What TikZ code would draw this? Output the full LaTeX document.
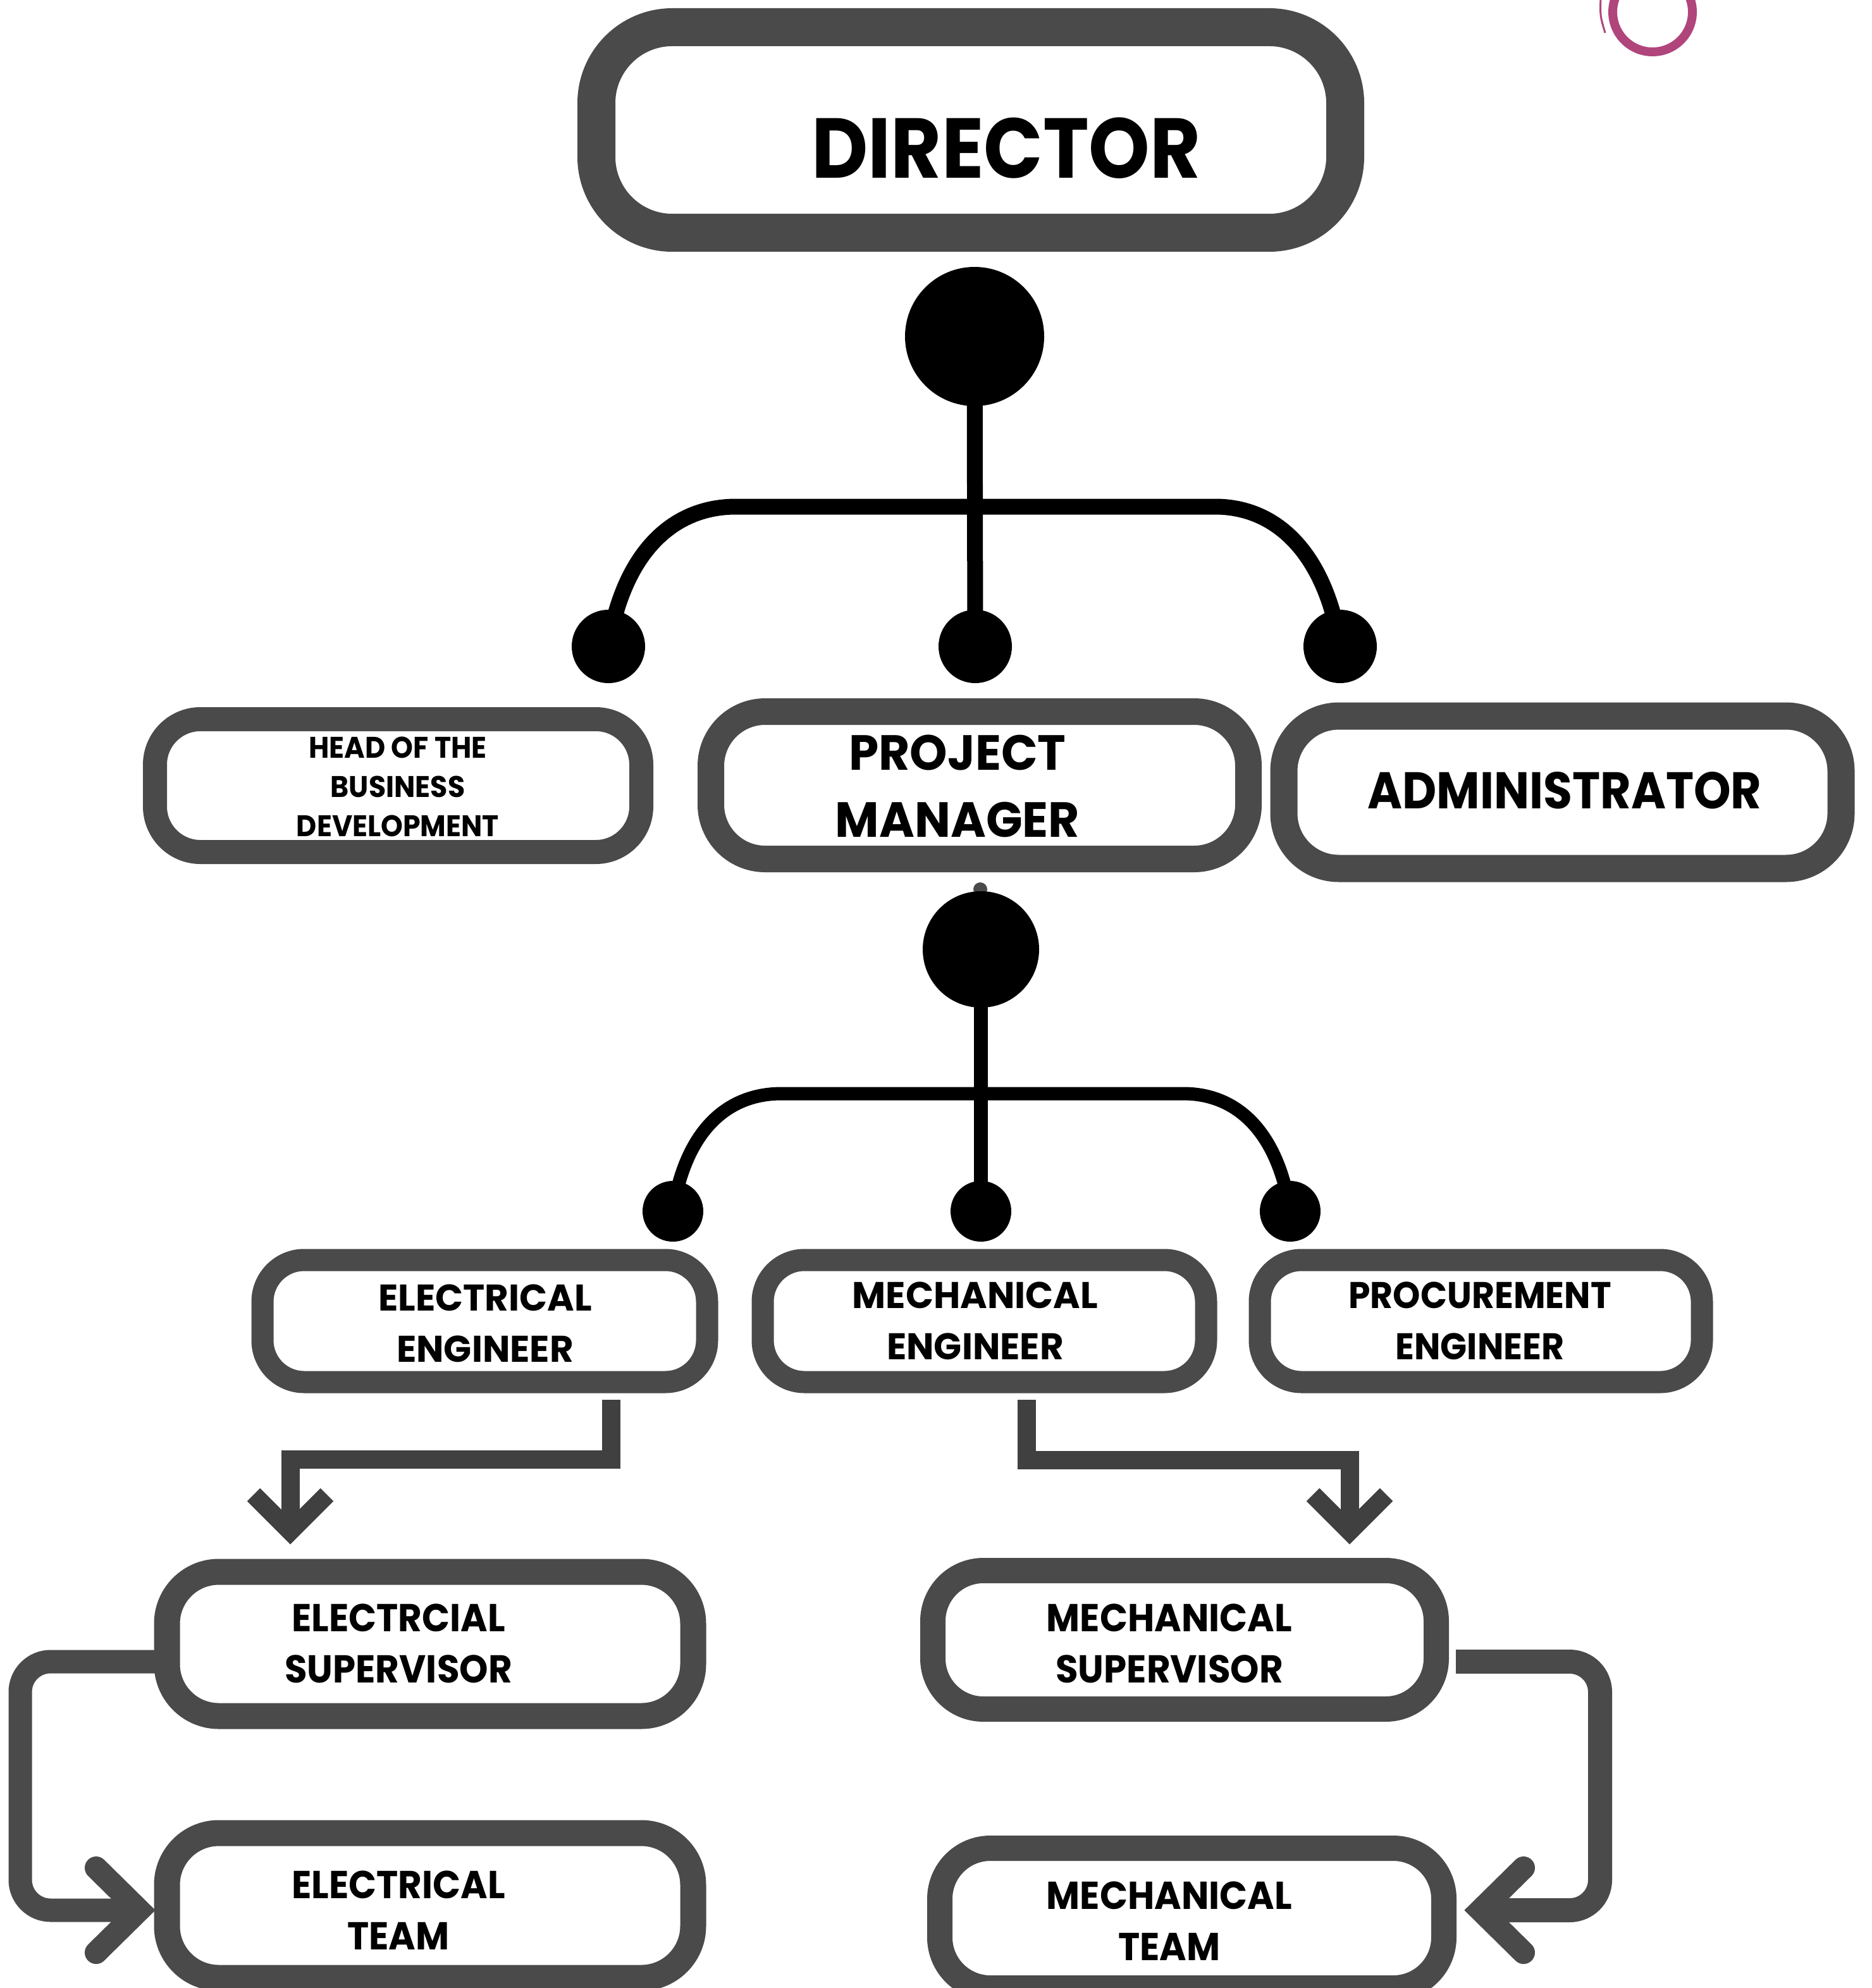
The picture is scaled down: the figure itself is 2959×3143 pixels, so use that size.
\documentclass[tikz,border=0pt]{standalone}
\usepackage{fontspec}
\setmainfont{Poppins}
\newfontfamily\popa{Poppins}[FakeStretch=0.915]
\newfontfamily\popb{Poppins}[FakeStretch=0.94]
\newfontfamily\popc{Poppins}[FakeStretch=0.97]
\newfontfamily\popd{Poppins}[FakeStretch=0.985]
\newdimen\pxu \pxu=0.01cm
\definecolor{boxgray}{RGB}{74,74,74}
\definecolor{conngray}{RGB}{64,64,64}
\definecolor{ringpink}{RGB}{176,69,124}
\newcommand\fsz[2]{\fontsize{#1}{#2}\selectfont\bfseries}
\tikzset{
  rbox/.style 2 args={draw=boxgray, fill=white, line width=#1\pxu, rounded corners=#2\pxu, inner sep=0pt, outer sep=0pt},
  lbl/.style={align=center, inner sep=0pt, text=black},
  tdot/.style={circle, fill=black, inner sep=0pt, minimum size=#1\pxu},
  treeline/.style={draw=black, line width=#1\pxu},
  connline/.style={draw=conngray, line width=#1\pxu, line cap=butt, line join=miter},
  connlow/.style={draw=boxgray, line width=#1\pxu, line cap=butt, line join=miter},
}
\begin{document}
\begin{tikzpicture}[x=0.01cm, y=-0.01cm]
\useasboundingbox (0,0) rectangle (2959,3143);
\fill[white] (0,0) rectangle (2959,3143);
% decorative ring
\draw[ringpink, line width=14\pxu] (2613,19) circle (63);
\draw[ringpink, line width=3\pxu] (2531,-5) .. controls (2530,25) .. (2538,52);

% boxes
\node[rbox={60}{120}, minimum width=1184\pxu, minimum height=325\pxu] (dir) at (1535,205.5) {};
\node[rbox={38}{72}, minimum width=769\pxu, minimum height=210\pxu] (head) at (629.5,1242) {};
\node[rbox={42}{86}, minimum width=850\pxu, minimum height=233\pxu] (pm) at (1549,1241.5) {};
\node[rbox={43}{87}, minimum width=881\pxu, minimum height=241\pxu] (adm) at (2470.5,1252.5) {};
\node[rbox={35}{66}, minimum width=703\pxu, minimum height=193\pxu] (ee) at (766.5,2088.5) {};
\node[rbox={35}{66}, minimum width=701\pxu, minimum height=193\pxu] (me) at (1556.5,2088.5) {};
\node[rbox={35}{66}, minimum width=699\pxu, minimum height=193\pxu] (pe) at (2341.5,2088.5) {};
\node[rbox={41}{82}, minimum width=832\pxu, minimum height=228\pxu] (es) at (680,2599) {};
\node[rbox={41}{82}, minimum width=832\pxu, minimum height=229\pxu] (et) at (680,3012.5) {};
\node[rbox={40}{80}, minimum width=796\pxu, minimum height=219\pxu] (ms) at (1873,2592.5) {};
\node[rbox={40}{80}, minimum width=797\pxu, minimum height=221\pxu] (mt) at (1884.5,3032.5) {};

% labels
\node[lbl, font=\popa\fsz{38.2pt}{40pt}] (dirt) at (1591,234) {DIRECTOR};
\node[lbl, font=\popb\fsz{13.4pt}{17.6pt}] (headt) at (629,1244) {HEAD OF THE\\BUSINESS\\DEVELOPMENT};
\node[lbl, font=\popc\fsz{22.2pt}{30.2pt}] (pmt) at (1514,1243) {PROJECT\\MANAGER};
\node[lbl, font=\popa\fsz{23.2pt}{25pt}] (admt) at (2474,1250) {ADMINISTRATOR};
\node[lbl, font=\popd\fsz{16.7pt}{23pt}] (eet) at (767,2092) {ELECTRICAL\\ENGINEER};
\node[lbl, font=\popd\fsz{16.7pt}{23pt}] (met) at (1542,2088) {MECHANICAL\\ENGINEER};
\node[lbl, font=\popb\fsz{16.7pt}{23pt}] (pet) at (2340,2088) {PROCUREMENT\\ENGINEER};
\node[lbl, font=\popb\fsz{17.5pt}{23pt}] (est) at (630,2598) {ELECTRCIAL\\SUPERVISOR};
\node[lbl, font=\popb\fsz{17.5pt}{23pt}] (ett) at (630,3020) {ELECTRICAL\\TEAM};
\node[lbl, font=\popb\fsz{17.5pt}{23pt}] (mst) at (1849,2598) {MECHANICAL\\SUPERVISOR};
\node[lbl, font=\popb\fsz{17.5pt}{23pt}] (mtt) at (1849,3037) {MECHANICAL\\TEAM};

% first tree
\coordinate (b1l) at (1164,801);
\coordinate (b1r) at (1921,801);
\coordinate (c1lp) at (962,1022);
\coordinate (c1mp) at (1542,1022);
\coordinate (c1rp) at (2119,1022);
\draw[treeline=25] (1541,532) -- (c1mp);
\draw[treeline=25] (c1lp) .. controls (985,878) and (1060,801) .. (b1l) -- (b1r) .. controls (2021,801) and (2096,878) .. (c1rp);
\node[tdot=220] (c1) at (1541,532) {};
\node[tdot=116] (c1l) at (c1lp) {};
\node[tdot=116] (c1m) at (c1mp) {};
\node[tdot=116] (c1r) at (c1rp) {};

% second tree
\fill[boxgray] (1550,1406) circle (11);
\coordinate (b2l) at (1236,1729);
\coordinate (b2r) at (1871,1729);
\coordinate (c2lp) at (1064,1915);
\coordinate (c2mp) at (1551,1915);
\coordinate (c2rp) at (2040,1915);
\draw[treeline=22] (1551,1501) -- (c2mp);
\draw[treeline=21] (c2lp) .. controls (1083,1792) and (1146,1729) .. (b2l) -- (b2r) .. controls (1958,1729) and (2021,1792) .. (c2rp);
\node[tdot=184] (c2) at (1551,1501) {};
\node[tdot=96] (c2l) at (c2lp) {};
\node[tdot=96] (c2m) at (c2mp) {};
\node[tdot=96] (c2r) at (c2rp) {};

% engineer -> supervisor arrows
\coordinate (a1s) at (966,2213);
\coordinate (a1t) at (459,2421);
\draw[connline=29] (a1s) |- (459,2307) -- ([yshift=6\pxu]a1t);
\draw[connline=29] (401,2363) -- (a1t) -- (517,2363);
\coordinate (a2s) at (1623,2213);
\coordinate (a2t) at (2134,2421);
\draw[connline=29] (a2s) |- (2134,2308) -- ([yshift=6\pxu]a2t);
\draw[connline=29] (2076,2363) -- (a2t) -- (2192,2363);

% supervisor -> team arrows
\coordinate (a3s) at (259,2627);
\coordinate (a3t) at (220,3020);
\draw[connlow=37, rounded corners=48\pxu] (a3s) -- (32,2627) -- (32,3020) -- ([xshift=2\pxu]a3t);
\draw[connlow=36, line cap=round] (152,2953) -- (a3t) -- (152,3087);
\coordinate (a4s) at (2302,2627);
\coordinate (a4t) at (2341,3020);
\draw[connlow=38, rounded corners=48\pxu] (a4s) -- (2530,2627) -- (2530,3020) -- ([xshift=-2\pxu]a4t);
\draw[connlow=36, line cap=round] (2409,2953) -- (a4t) -- (2409,3087);
\end{tikzpicture}
\end{document}
